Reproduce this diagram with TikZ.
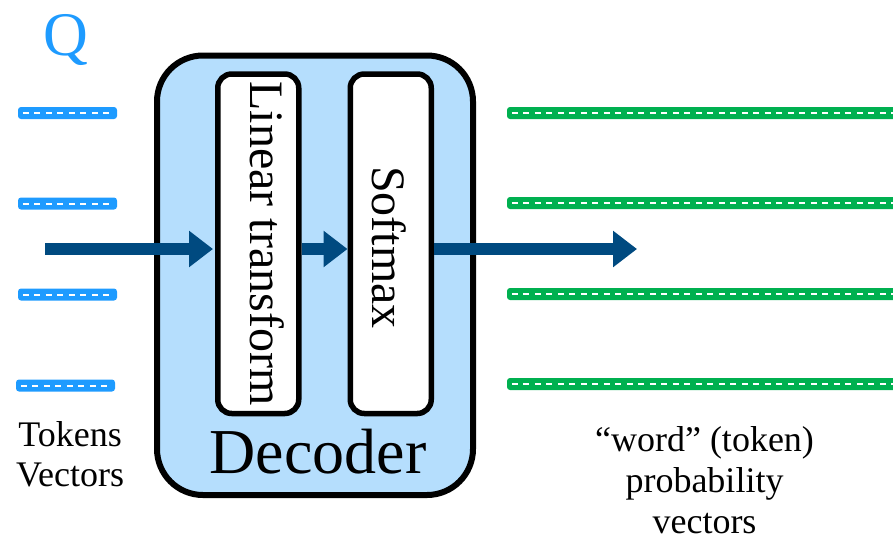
\documentclass[tikz,border=0pt]{standalone}
\usepackage{fontspec}
\setmainfont{Liberation Serif}
\usetikzlibrary{arrows.meta}
\definecolor{qblue}{HTML}{1E9BFF}
\definecolor{vgreen}{HTML}{00B050}
\definecolor{flow}{HTML}{004A80}
\definecolor{decfill}{HTML}{B5DEFD}
\tikzset{
  decbox/.style={draw=black, line width=6pt, fill=decfill, rounded corners=46pt,
    minimum width=316pt, minimum height=439.5pt, inner sep=0pt},
  stagebox/.style={draw=black, line width=5.5pt, fill=white, rounded corners=14pt,
    minimum width=81pt, minimum height=339.5pt, inner sep=0pt},
  stagelabel/.style={rotate=-90, anchor=base, inner sep=0pt,
    font=\fontsize{48}{48}\selectfont},
  flowarrow/.style={draw=flow, line width=12pt,
    -{Triangle[length=24pt,width=35pt]}},
  tokbar/.style={fill=qblue, rounded corners=3pt, minimum width=99pt,
    minimum height=12pt, inner sep=0pt},
  probbar/.style={fill=vgreen, rounded corners=3pt, minimum width=393pt,
    minimum height=12pt, inner sep=0pt},
  bardash/.style={draw=white, line width=2pt, dash pattern=on 6pt off 5.5pt},
  caption/.style={anchor=base, inner sep=0pt, font=\fontsize{36}{40}\selectfont},
}
\begin{document}
\begin{tikzpicture}[x=1pt, y=-1pt]
\useasboundingbox (0,0) rectangle (893,539);

% query label
\node[anchor=base, inner sep=0pt, text=qblue, font=\fontsize{62}{62}\selectfont]
  (q) at (65.5,55) {Q};

% input token vectors
\foreach \i/\x/\y in {1/67.5/113, 2/67.5/203.5, 3/67.5/294.5, 4/65.5/385.5}{
  \node[tokbar] (t\i) at (\x,\y) {};
  \draw[bardash] ([xshift=5pt]t\i.west) -- ([xshift=-4pt]t\i.east);
}

% output probability vectors
\foreach \i/\y in {1/113, 2/203, 3/294, 4/384}{
  \node[probbar] (p\i) at (703.5,\y) {};
  \draw[bardash] ([xshift=5pt]p\i.west) -- ([xshift=-4pt]p\i.east);
}

% decoder block with its two stages
\node[decbox] (dec) at (315,275.25) {};
\node[stagebox] (lin) at (258.25,243.75) {};
\node[stagebox] (soft) at (390.75,243.75) {};
\node[stagelabel] (lintxt) at (250,243.5) {Linear transform};
\node[stagelabel] (softtxt) at (372,247.5) {Softmax};
\node[anchor=base, inner sep=0pt, font=\fontsize{64}{64}\selectfont]
  (dectxt) at (318,473) {Decoder};

% data flow
\coordinate (src) at (45,249);
\coordinate (dst) at (637,249);
\draw[flowarrow, shorten >=2pt] (src) -- (src -| lin.west);
\draw[flowarrow] (lin.east |- src) -- (soft.west |- src);
\draw[flowarrow] (soft.east |- src) -- (dst);

% captions
\node[caption] (cap1) at (70,446) {Tokens};
\node[caption] (cap2) at (70,486) {Vectors};
\node[caption] (cap3) at (704.5,451) {“word” (token)};
\node[caption] (cap4) at (704.5,492) {probability};
\node[caption] (cap5) at (704.5,533) {vectors};
\end{tikzpicture}
\end{document}
